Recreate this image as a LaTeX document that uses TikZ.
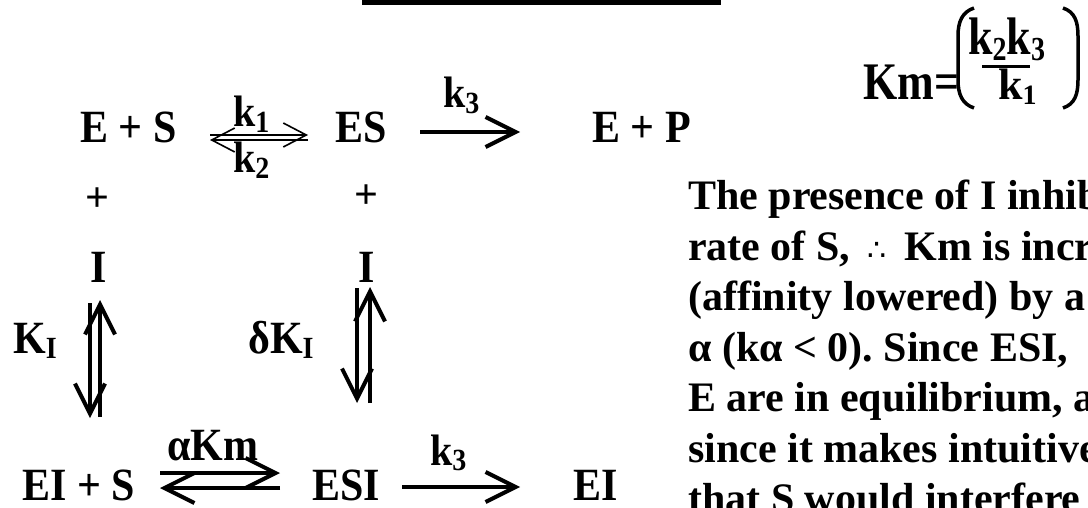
\documentclass[tikz,border=0pt]{standalone}
\usepackage{fontspec}
\setmainfont{Liberation Serif}
\newfontfamily\symfam{DejaVu Sans}
\usepackage{tikz}
\usetikzlibrary{arrows.meta,positioning,calc}
\frenchspacing

\newcommand{\lowidx}[1]{\raisebox{-5pt}{\fontsize{28pt}{28pt}\selectfont #1}}
\newcommand{\tall}[2][1.1]{\scalebox{1}[#1]{#2}}

\tikzset{
  chem/.style={inner sep=0pt, anchor=base west, font=\bfseries\fontsize{42pt}{50pt}\selectfont},
  rate/.style={inner sep=0pt, anchor=base west, font=\bfseries\fontsize{40pt}{46pt}\selectfont},
  para/.style={inner sep=0pt, anchor=base west, font=\bfseries\fontsize{42pt}{50pt}\selectfont},
  heavy/.style={line width=4pt, -{Straight Barb[length=30pt,width=30pt]}},
  light/.style={line width=1.6pt, -{Straight Barb[length=23pt,width=24pt]}},
}

\begin{document}
\begin{tikzpicture}[x=1pt,y=1pt]
\useasboundingbox (0,0) rectangle (1088,-508);
\clip (0,0) rectangle (1088,-508);
\fill (362,0) rectangle (721,-5);

% top row
\node[chem] (es) at (80,-143) {\tall{E + S}};
\node[chem] (cplx) at (335,-143) {\tall{ES}};
\node[chem] (ep) at (592,-143) {\tall{E + P}};
\node[rate] (k1) at (233,-127) {\tall{k\lowidx{1}}};
\node[rate] (k2) at (233,-173) {\tall{k\lowidx{2}}};
\node[rate] (k3a) at (443,-108) {\tall{k\lowidx{3}}};
\draw[light] ([xshift=130pt,yshift=8pt]es.base west) -- ([xshift=-27pt,yshift=8pt]cplx.base west);
\draw[light] ([xshift=-27pt,yshift=3pt]cplx.base west) -- ([xshift=130pt,yshift=3pt]es.base west);
\draw[heavy] ([xshift=85pt,yshift=11pt]cplx.base west) -- ([xshift=-72pt,yshift=11pt]ep.base west);

% inhibitor columns
\node[chem, anchor=center] (plusl) at (97,-200) {+};
\node[chem, anchor=center] (plusr) at (366,-197) {+};
\node[chem, anchor=base] (il) at (99,-282) {\tall{I}};
\node[chem, anchor=base] (ir) at (367,-282) {\tall{I}};
\node[chem] (ki) at (13,-353) {\tall{K\lowidx{I}}};
\node[chem] (dki) at (248,-353) {\tall{δK\lowidx{I}}};
\draw[heavy] ([xshift=1pt,yshift=-135pt]il.base) -- ([xshift=1pt,yshift=-18pt]il.base);
\draw[heavy] ([xshift=-9pt,yshift=-21pt]il.base) -- ([xshift=-9pt,yshift=-136pt]il.base);
\draw[heavy] ([xshift=3pt,yshift=-121pt]ir.base) -- ([xshift=3pt,yshift=-5pt]ir.base);
\draw[heavy] ([xshift=-10pt,yshift=-6pt]ir.base) -- ([xshift=-10pt,yshift=-121pt]ir.base);

% bottom row
\node[chem, text depth=0pt] (eis) at (22,-500) {\tall{EI + S}};
\node[chem, text depth=0pt] (esi) at (312,-500) {\tall{ESI}};
\node[chem, text depth=0pt] (ei) at (573,-500) {\tall{EI}};
\node[chem] (akm) at (167,-460) {\tall{αKm}};
\node[rate] (k3b) at (430,-465) {\tall{k\lowidx{3}}};
\draw[heavy] ([xshift=138pt,yshift=27pt]eis.base west) -- ([xshift=-32pt,yshift=27pt]esi.base west);
\draw[heavy] ([xshift=-32pt,yshift=12pt]esi.base west) -- ([xshift=138pt,yshift=12pt]eis.base west);
\draw[heavy] ([xshift=90pt,yshift=13pt]esi.base west) -- ([xshift=-53pt,yshift=13pt]ei.base west);

% Km formula
\node[chem, font=\bfseries\fontsize{44pt}{50pt}\selectfont] (km) at (863,-100) {\tall[1.2]{Km=}};
\node[chem, font=\bfseries\fontsize{44pt}{50pt}\selectfont] (num) at (968,-55) {\tall[1.2]{k\lowidx{2}k\lowidx{3}}};
\node[chem, font=\bfseries\fontsize{44pt}{50pt}\selectfont] (den) at (998,-100) {k\lowidx{1}};
\draw[line width=3pt] (982,-67) -- (1030,-67);
\draw[line width=3.5pt] (974,-8) .. controls (962,-12) and (958,-22) .. (958,-36) -- (958,-80) .. controls (958,-94) and (962,-104) .. (974,-108);
\draw[line width=3.5pt] (1063,-8) .. controls (1075,-12) and (1078,-22) .. (1078,-36) -- (1078,-80) .. controls (1078,-94) and (1075,-104) .. (1063,-108);

% explanation
\node[para] (l1) at (688,-210) {The presence of I inhib};
\node[para] (l2) at (688,-260.4) {rate of S, \,{\mdseries\symfam\fontsize{30pt}{30pt}\selectfont ∴}\, Km is incr};
\node[para] (l3) at (688,-310.8) {(affinity lowered) by a};
\node[para] (l4) at (688,-361.2) {α (kα < 0). Since ESI,};
\node[para] (l5) at (688,-411.6) {E are in equilibrium, a};
\node[para] (l6) at (688,-462) {since it makes intuitive};
\node[para] (l7) at (688,-512.4) {that S would interfere};
\end{tikzpicture}
\end{document}
